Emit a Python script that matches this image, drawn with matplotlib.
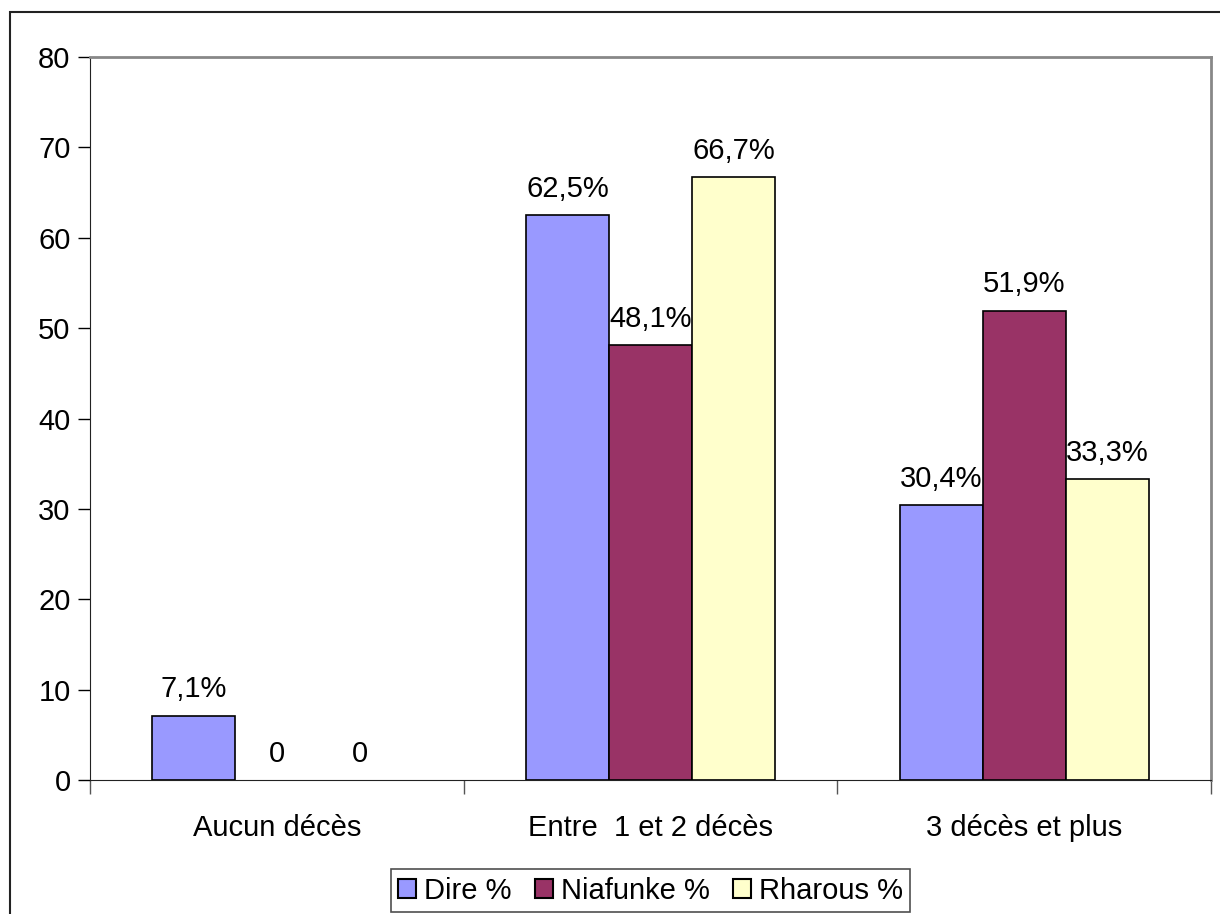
import matplotlib.pyplot as plt
import numpy as np
from matplotlib.patches import Rectangle, Patch

plt.rcParams['font.family'] = ['Liberation Sans', 'DejaVu Sans']

categories = ["Aucun décès", "Entre  1 et 2 décès", "3 décès et plus"]
dire = [7.1, 62.5, 30.4]
niafunke = [0, 48.1, 51.9]
rharous = [0, 66.7, 33.3]
dire_labels = ["7,1%", "62,5%", "30,4%"]
niafunke_labels = ["0", "48,1%", "51,9%"]
rharous_labels = ["0", "66,7%", "33,3%"]

FS = 21

fig = plt.figure(figsize=(12.2, 9.14), dpi=100)
ax = fig.add_axes([90 / 1220, 1 - 780 / 914, 1121 / 1220, 723 / 914])

# frame around the whole chart area (runs off the right/bottom edge)
fig.patches.append(Rectangle((10 / 1220, -0.1), 1.2, 1 - 12 / 914 + 0.1,
                             transform=fig.transFigure, fill=False,
                             edgecolor='#222222', linewidth=1.5))

x = np.arange(len(categories))
w = 1 / 4.5
series = [
    (dire, dire_labels, '#9999FF', 'Dire %'),
    (niafunke, niafunke_labels, '#993366', 'Niafunke %'),
    (rharous, rharous_labels, '#FFFFCC', 'Rharous %'),
]
handles = []
for i, (vals, labs, col, name) in enumerate(series):
    bars = ax.bar(x + (i - 1) * w, vals, w, color=col, edgecolor='black',
                  linewidth=1.2)
    for b, v in zip(bars, vals):
        if v == 0:
            b.set_linewidth(0)
    ax.bar_label(bars, labels=labs, padding=9, fontsize=FS)
    handles.append(Patch(facecolor=col, edgecolor='black', linewidth=1.5, label=name))

ax.set_xlim(-0.5, 2.5)
ax.set_ylim(0, 80)
ax.set_yticks(range(0, 81, 10))
ax.tick_params(axis='y', labelsize=FS, length=9, width=1, direction='out', pad=5)

# category separators as ticks, names centred between them
ax.set_xticks([-0.5, 0.5, 1.5, 2.5])
ax.set_xticklabels([])
ax.tick_params(axis='x', length=10, width=1, color='#555555')
ax.set_xticks(x, minor=True)
ax.set_xticklabels(categories, minor=True, fontsize=FS)
ax.tick_params(axis='x', which='minor', length=0, pad=24.5)

for s in ['top', 'right']:
    ax.spines[s].set_color('#888888')
    ax.spines[s].set_linewidth(2)
ax.spines['left'].set_color('#222222')
ax.spines['bottom'].set_color('#222222')

leg = fig.legend(handles=handles, loc='lower center',
                 bbox_to_anchor=(650.5 / 1220, 2 / 914), ncol=3,
                 fontsize=FS, frameon=True, fancybox=False, edgecolor='#222222',
                 handlelength=0.62, handleheight=0.62, handletextpad=0.27,
                 columnspacing=0.8, borderpad=0.25, borderaxespad=0)
leg.get_frame().set_linewidth(1.2)

fig.savefig('out.png', dpi=100)
